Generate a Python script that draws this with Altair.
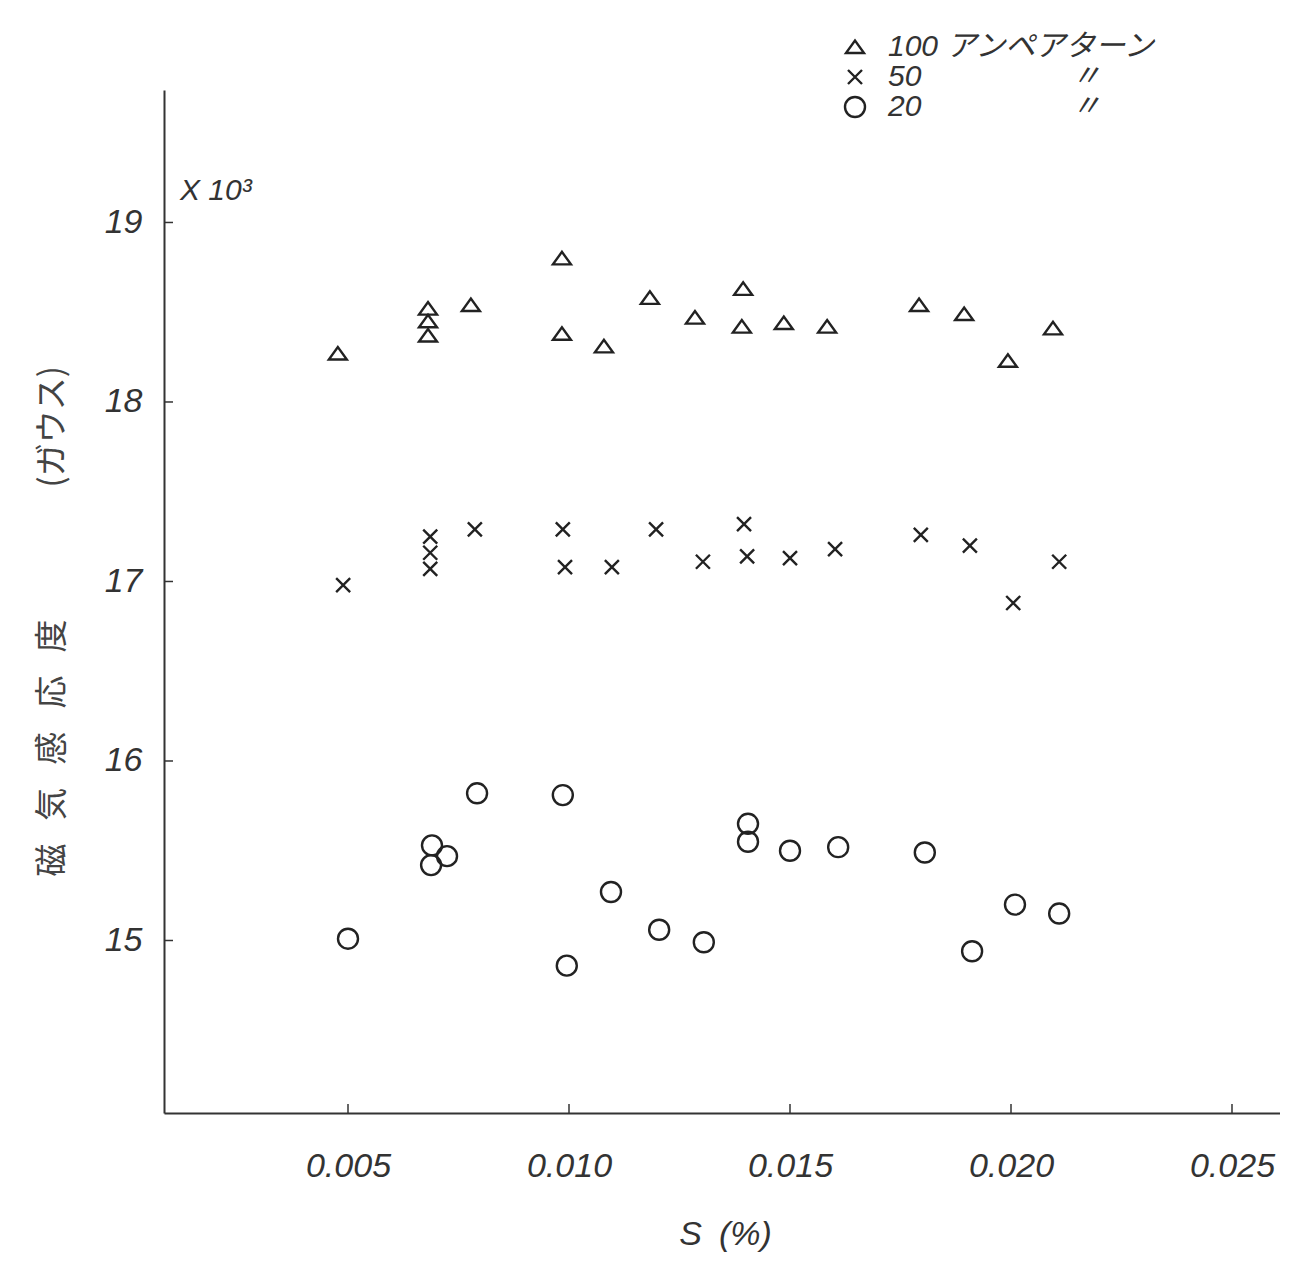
import altair as alt
import pandas as pd

# ---------------- data ----------------
series_names = [
    "100 アンペアターン",
    "50\u3000\u3000\u3000\u3000\u3000〃",
    "20\u3000\u3000\u3000\u3000\u3000〃",
]

s_100 = [0.00477, 0.00681, 0.00681, 0.00681, 0.00778, 0.00984, 0.00984, 0.01079,
         0.01183, 0.01285, 0.01394, 0.01391, 0.01486, 0.01584, 0.01792, 0.01894,
         0.01993, 0.02095]
b_100 = [18.27, 18.52, 18.45, 18.37, 18.54, 18.80, 18.38, 18.31,
         18.58, 18.47, 18.63, 18.42, 18.44, 18.42, 18.54, 18.49,
         18.23, 18.41]

s_50 = [0.00489, 0.00686, 0.00686, 0.00686, 0.00787, 0.00986, 0.00991, 0.01097,
        0.01197, 0.01303, 0.01396, 0.01403, 0.01500, 0.01602, 0.01796, 0.01907,
        0.02005, 0.02109]
b_50 = [16.98, 17.25, 17.16, 17.07, 17.29, 17.29, 17.08, 17.08,
        17.29, 17.11, 17.32, 17.14, 17.13, 17.18, 17.26, 17.20,
        16.88, 17.11]

s_20 = [0.00500, 0.00690, 0.00688, 0.00724, 0.00792, 0.00986, 0.00995, 0.01095,
        0.01204, 0.01305, 0.01405, 0.01405, 0.01500, 0.01609, 0.01805, 0.01912,
        0.02009, 0.02109]
b_20 = [15.01, 15.53, 15.42, 15.47, 15.82, 15.81, 14.86, 15.27,
        15.06, 14.99, 15.65, 15.55, 15.50, 15.52, 15.49, 14.94,
        15.20, 15.15]

x_ticks = [0.005, 0.010, 0.015, 0.020, 0.025]
y_ticks = [15, 16, 17, 18, 19]

x_title = "S\u2002(%)"
_sep = "\u2002\u2009"
y_title = _sep.join("磁気感応度") + "\u3000\u3000\u3000\u3000(ガウス)"
exp_label = "X 10³"

# ---------------- build table ----------------
rows = []
for name, xs, ys in zip(series_names, [s_100, s_50, s_20], [b_100, b_50, b_20]):
    for s, b in zip(xs, ys):
        rows.append({"S": s, "B": b, "series": name})
df = pd.DataFrame(rows)

# ---------------- layout / styles ----------------
FONT = "Liberation Sans Narrow, Liberation Sans, Noto Sans CJK JP, sans-serif"
JFONT = "Noto Sans CJK JP"
INK = "#222222"
W, H = 1116, 1023

xscale = alt.Scale(domain=[0.000837, 0.026086], nice=False, zero=False)
yscale = alt.Scale(domain=[14.039, 19.738], nice=False, zero=False)

x_axis = alt.Axis(
    values=x_ticks, format=".3f", grid=False, ticks=False, tickSize=0,
    labelFont=FONT, labelFontSize=34, labelFontStyle="italic", labelColor="#333",
    labelPadding=36, labelFlush=False,
    domainColor="#333", domainWidth=2,
    title=x_title, titleFont=FONT, titleFontSize=34, titleFontStyle="italic",
    titleFontWeight="normal", titleColor="#333", titlePadding=34, titleX=561,
)
y_axis = alt.Axis(
    values=y_ticks, format="d", grid=False, ticks=False, tickSize=0,
    labelFont=FONT, labelFontSize=34, labelFontStyle="italic", labelColor="#333",
    labelPadding=22, labelFlush=False,
    domainColor="#333", domainWidth=2,
    title=y_title, titleFont=JFONT, titleFontSize=33, titleFontWeight="normal",
    titleColor="#444", titleAngle=270, titleX=-112, titleY=531,
    titleAlign="center", titleBaseline="middle",
)

tri_path = "M-0.9,0.6L0.9,0.6L0,-0.65Z"
x_path = "M-0.7,-0.7L0.7,0.7M-0.7,0.7L0.7,-0.7"
circ_path = "M1,0A1,1,0,1,1,-1,0A1,1,0,1,1,1,0Z"

points = alt.Chart(df).mark_point(filled=False, size=400, strokeWidth=2.4, opacity=1).encode(
    x=alt.X("S:Q", scale=xscale, axis=x_axis),
    y=alt.Y("B:Q", scale=yscale, axis=y_axis),
    shape=alt.Shape("series:N", scale=alt.Scale(domain=series_names,
                                                 range=[tri_path, x_path, circ_path]),
                    legend=alt.Legend(
                        title=None, orient="none", legendX=676, legendY=-58,
                        labelFont=FONT, labelFontSize=30, labelFontStyle="italic",
                        labelColor="#333", labelLimit=600, labelOffset=18,
                        rowPadding=0, padding=0, symbolSize=400,
                        symbolStrokeWidth=2.4, symbolStrokeColor=INK,
                        symbolFillColor="transparent",
                    )),
    color=alt.value(INK),
)

ytick_rules = alt.Chart(pd.DataFrame({"S": [x_ticks[0]] * len(y_ticks), "B": y_ticks})).mark_rule(
    color="#333", strokeWidth=1.5).encode(
    y=alt.Y("B:Q", scale=yscale, axis=y_axis),
    x=alt.value(0), x2=alt.value(9),
)

xtick_rules = alt.Chart(pd.DataFrame({"S": x_ticks, "B": [y_ticks[0]] * len(x_ticks)})).mark_rule(
    color="#333", strokeWidth=1.5).encode(
    x=alt.X("S:Q", scale=xscale, axis=x_axis),
    y=alt.value(H), y2=alt.value(H - 9),
)

exp_text = alt.Chart(pd.DataFrame({"t": [exp_label]})).mark_text(
    align="left", baseline="alphabetic", font=FONT, fontSize=30,
    fontStyle="italic", color="#333").encode(
    text="t:N", x=alt.value(16), y=alt.value(110),
)

chart = alt.layer(points, ytick_rules, xtick_rules, exp_text).properties(
    width=W, height=H,
    padding={"left": 156, "top": 82, "right": 0, "bottom": 145},
    autosize=alt.AutoSizeParams(type="none"),
    background="white",
).configure_view(stroke=None)

chart.save("out.html", embed_options={"renderer": "svg", "actions": False})
